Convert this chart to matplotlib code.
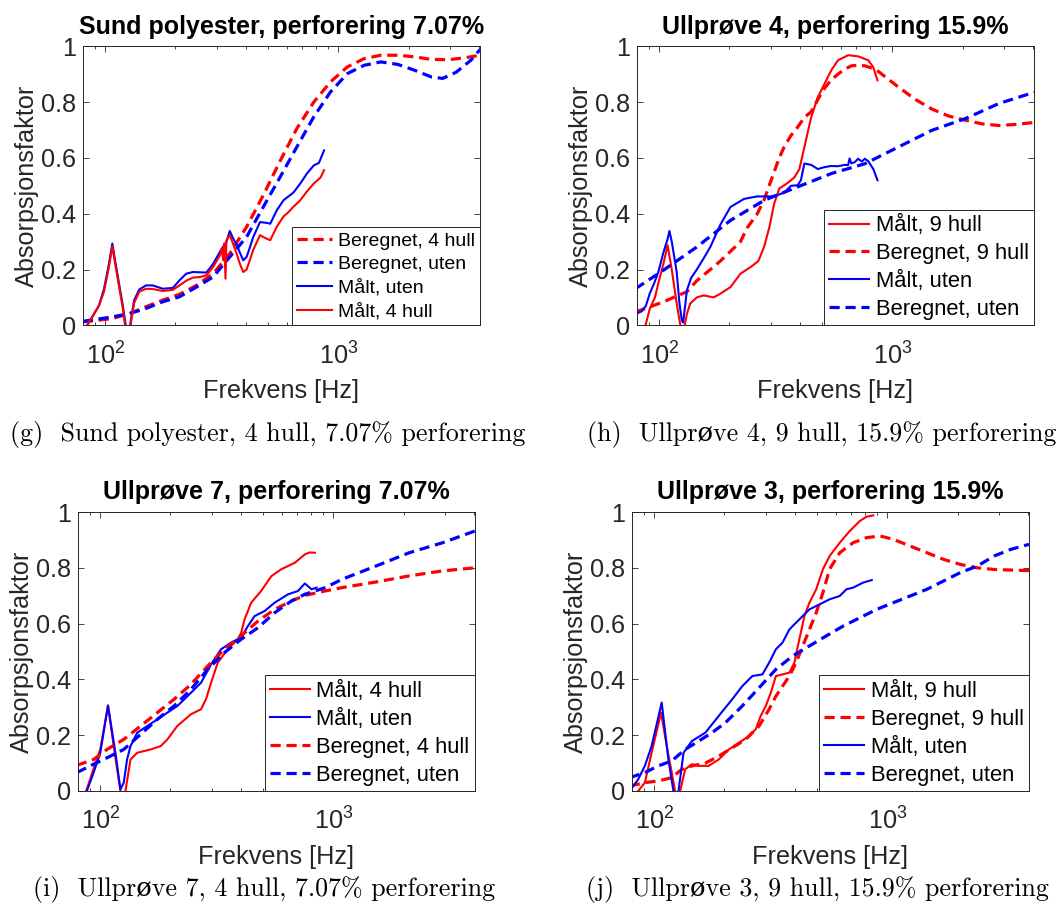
import numpy as np
import matplotlib
matplotlib.use('Agg')
import matplotlib.pyplot as plt
import matplotlib.ticker as mticker

plt.rcParams['font.family'] = ['Liberation Sans', 'DejaVu Sans']
plt.rcParams['mathtext.fontset'] = 'custom'
plt.rcParams['mathtext.rm'] = 'Liberation Sans'

# ---- (g) Sund polyester, 7.07 % ----
g_ber4_f = [80, 107, 127, 149, 176, 208, 246, 290, 342, 404, 476, 563, 663, 784, 924,
            1092, 1290, 1522, 1800, 2125, 2506, 2960, 3497, 4050]
g_ber4_a = [0.012, 0.024, 0.042, 0.066, 0.090, 0.111, 0.143, 0.185, 0.257, 0.353, 0.466,
            0.590, 0.705, 0.800, 0.872, 0.926, 0.956, 0.968, 0.968, 0.962, 0.953, 0.952,
            0.959, 0.968]
g_beru_f = [80, 107, 127, 149, 176, 208, 246, 290, 342, 404, 476, 563, 663, 784, 924,
            1092, 1290, 1522, 1800, 2125, 2506, 2800, 3200, 3700, 4050]
g_beru_a = [0.014, 0.030, 0.042, 0.060, 0.084, 0.102, 0.137, 0.173, 0.245, 0.317, 0.424,
            0.532, 0.639, 0.747, 0.836, 0.902, 0.932, 0.944, 0.935, 0.914, 0.890, 0.885,
            0.907, 0.950, 0.988]
g_maltu_f = [83.6, 93.9, 98.7, 103.7, 107.2, 110.8, 114.5, 118.4, 122.4, 124.5, 126.6, 133,
             139.8, 149.4, 159.6, 176.4, 195, 208, 222.5, 237.7, 254, 271.5, 290, 310, 331,
             342, 354, 365.9, 378, 390.6, 404, 417.4, 431, 461, 493, 510, 544, 581, 642,
             686, 733, 784, 825, 868]
g_maltu_a = [0, 0.07, 0.13, 0.22, 0.293, 0.22, 0.15, 0.08, 0.0, -0.04, -0.02, 0.09, 0.128,
             0.143, 0.143, 0.131, 0.134, 0.161, 0.185, 0.191, 0.19, 0.189, 0.22, 0.263, 0.30,
             0.338, 0.31, 0.29, 0.26, 0.233, 0.245, 0.28, 0.316, 0.37, 0.367, 0.364, 0.412,
             0.448, 0.476, 0.508, 0.544, 0.573, 0.582, 0.627]
g_malt4_f = [83.6, 93.9, 98.7, 103.7, 107.2, 110.8, 114.5, 118.4, 122.4, 124.5, 126.6, 133,
             139.8, 149.4, 159.6, 176.4, 195, 208, 222.5, 237.7, 254, 271.5, 290, 310, 315.4,
             320.6, 323.7, 327.9, 331, 342, 354, 365.9, 378, 390.6, 404, 417.4, 431, 461, 493,
             510, 544, 581, 601, 642, 686, 733, 784, 839, 868]
g_malt4_a = [0, 0.07, 0.12, 0.21, 0.283, 0.21, 0.14, 0.07, -0.02, -0.05, -0.03, 0.08, 0.12,
             0.131, 0.13, 0.123, 0.127, 0.143, 0.16, 0.171, 0.173, 0.179, 0.209, 0.25, 0.275,
             0.233, 0.293, 0.167, 0.305, 0.323, 0.29, 0.257, 0.22, 0.191, 0.2, 0.235, 0.27,
             0.323, 0.31, 0.305, 0.353, 0.39, 0.40, 0.425, 0.448, 0.48, 0.508, 0.53, 0.556]

# ---- (h) Ullprove 4, 15.9 % ----
h_malt9_f = [86, 91.1, 95.8, 99, 104.1, 108.6, 113.1, 118.8, 122, 124.9, 127, 131.3, 135.7,
             144.9, 155, 171, 182.6, 202, 223, 246.6, 266, 281.5, 296.3, 311.1, 327, 355.2,
             379.6, 399, 419.3, 448.1, 478.8, 511.7, 546.8, 584.4, 645.5, 713, 787.7, 828, 863]
h_malt9_a = [-0.02, 0.06, 0.10, 0.15, 0.22, 0.287, 0.20, 0.078, 0.02, -0.03, -0.02, 0.04,
             0.078, 0.10, 0.107, 0.10, 0.113, 0.137, 0.185, 0.209, 0.23, 0.281, 0.35, 0.436,
             0.49, 0.51, 0.53, 0.56, 0.639, 0.745, 0.818, 0.866, 0.914, 0.95, 0.968, 0.964,
             0.95, 0.925, 0.878]
h_ber9_f = [79, 91.1, 104.1, 118.8, 131.3, 144.9, 165.6, 182.6, 202, 223, 238.6, 263.4,
            281.5, 296, 311, 327, 343.6, 367, 392, 419, 448, 479, 512, 547, 584, 624.5, 667,
            713, 762, 828, 870, 1061, 1252, 1478, 1744, 2058, 2428, 2865, 3381, 4050]
h_ber9_a = [0.048, 0.066, 0.084, 0.105, 0.12, 0.16, 0.20, 0.23, 0.265, 0.30, 0.35, 0.40,
            0.45, 0.50, 0.55, 0.60, 0.64, 0.68, 0.71, 0.745, 0.765, 0.81, 0.85, 0.88, 0.90,
            0.918, 0.93, 0.932, 0.93, 0.92, 0.91, 0.854, 0.81, 0.775, 0.75, 0.735, 0.722,
            0.716, 0.72, 0.727]
h_maltu_f = [79, 84, 87.6, 91.1, 95, 99, 104.1, 108.6, 110.5, 113.1, 118.8, 122, 124.9, 126.5,
             129.1, 131.3, 137, 144.9, 155, 165.6, 182.6, 202, 230.8, 263.4, 301, 321.6, 343.6,
             367.2, 392.4, 405, 419.3, 448.1, 478.8, 511.7, 546.8, 584.4, 624.5, 645.5, 655,
             667.3, 689.8, 713, 740, 762, 787.7, 828, 863]
h_maltu_a = [0.04, 0.05, 0.07, 0.115, 0.15, 0.19, 0.26, 0.31, 0.338, 0.30, 0.19, 0.08, 0.018,
             0.01, 0.07, 0.125, 0.17, 0.20, 0.24, 0.281, 0.36, 0.424, 0.453, 0.462, 0.462,
             0.467, 0.476, 0.50, 0.502, 0.52, 0.58, 0.575, 0.56, 0.567, 0.571, 0.57, 0.575,
             0.574, 0.598, 0.58, 0.585, 0.597, 0.587, 0.597, 0.588, 0.56, 0.52]
h_beru_f = [79, 104, 145, 202, 282, 392, 547, 762, 1061, 1478, 2058, 2865, 4050]
h_beru_a = [0.131, 0.197, 0.281, 0.376, 0.448, 0.496, 0.544, 0.579, 0.639, 0.699, 0.741,
            0.795, 0.835]

# ---- (i) Ullprove 7, 7.07 % ----
i_malt4_f = [84, 87, 93.6, 100, 104, 107.9, 114.2, 119, 122, 125, 128.2, 134.8, 144, 164.5,
             181.7, 194, 214, 244.8, 270.5, 284.4, 298.7, 319, 352, 389, 402, 415.7, 444, 490,
             541.6, 598, 683, 754, 790, 833]
i_malt4_a = [-0.03, 0.0, 0.08, 0.15, 0.23, 0.305, 0.16, 0.06, 0.0, -0.04, 0.0, 0.113, 0.137,
             0.149, 0.161, 0.185, 0.233, 0.275, 0.293, 0.33, 0.388, 0.46, 0.508, 0.544, 0.567,
             0.615, 0.675, 0.717, 0.77, 0.795, 0.818, 0.848, 0.855, 0.854]
i_maltu_f = [87.6, 93.6, 100, 107.9, 116.1, 122, 126.1, 130.3, 134.8, 144, 159.1, 175.8,
             194.1, 214.4, 244.8, 270.5, 298.7, 329.8, 364.2, 402.2, 429.7, 459, 506.9, 559.8,
             639, 705.6, 754, 805.5, 847]
i_maltu_a = [0, 0.066, 0.137, 0.307, 0.137, 0.006, 0.03, 0.113, 0.161, 0.209, 0.233, 0.257,
             0.281, 0.305, 0.352, 0.388, 0.454, 0.508, 0.532, 0.55, 0.591, 0.627, 0.645, 0.675,
             0.705, 0.717, 0.744, 0.723, 0.729]
i_ber4_f = [79.3, 93.6, 106.9, 126.1, 148.9, 175.8, 207.4, 244.8, 289, 340.9, 402.2, 474.5,
            559.8, 660.5, 754, 922.5, 1091, 1519, 2115, 2944, 4050]
i_ber4_a = [0.092, 0.113, 0.149, 0.185, 0.233, 0.281, 0.329, 0.382, 0.448, 0.508, 0.556,
            0.609, 0.651, 0.681, 0.701, 0.717, 0.729, 0.749, 0.771, 0.789, 0.80]
i_beru_f = [79.3, 93.6, 106.9, 126.1, 148.9, 175.8, 207.4, 244.8, 289, 340.9, 402.2, 474.5,
            559.8, 660.5, 754, 922.5, 1091, 1519, 2115, 2944, 4050]
i_beru_a = [0.066, 0.096, 0.119, 0.149, 0.203, 0.257, 0.305, 0.364, 0.436, 0.496, 0.544,
            0.585, 0.639, 0.681, 0.705, 0.729, 0.759, 0.806, 0.854, 0.89, 0.932]

# ---- (j) Ullprove 3, 15.9 % ----
j_malt9_f = [85.3, 91.1, 97.4, 106.9, 113.1, 118.8, 122.8, 126, 129.1, 135.7, 144.9, 155, 171,
             189, 208.9, 230.8, 255, 272.3, 286, 301, 316, 332.4, 355, 379.6, 399, 419, 440.7,
             463, 495, 529, 565, 624.5, 689.8, 762, 814, 870]
j_malt9_a = [0, 0.03, 0.137, 0.281, 0.161, 0.066, 0.0, -0.03, 0.0, 0.078, 0.096, 0.09, 0.09,
             0.113, 0.149, 0.173, 0.197, 0.221, 0.269, 0.305, 0.352, 0.412, 0.418, 0.424, 0.46,
             0.544, 0.627, 0.675, 0.723, 0.795, 0.842, 0.89, 0.932, 0.968, 0.983, 0.988]
j_ber9_f = [78.5, 91.1, 104.1, 118.8, 131.3, 144.9, 165.6, 189, 216, 246.6, 281.5, 311, 332.4,
            355, 379.6, 405.6, 433.5, 463, 495, 529, 565, 624.5, 713, 814, 930, 1061, 1252,
            1478, 1744, 2058, 2428, 2865, 3381, 4050]
j_ber9_a = [0.018, 0.03, 0.036, 0.048, 0.078, 0.09, 0.10, 0.125, 0.155, 0.185, 0.233, 0.293,
            0.34, 0.376, 0.412, 0.46, 0.52, 0.579, 0.639, 0.711, 0.795, 0.854, 0.89, 0.908,
            0.914, 0.902, 0.878, 0.854, 0.83, 0.812, 0.80, 0.794, 0.792, 0.79]
j_maltu_f = [78.5, 85.3, 91.1, 97.4, 107.6, 114.9, 120.8, 124, 127, 133.5, 144.9, 165.6, 189,
             216, 238.6, 263.4, 291, 311, 332.4, 355, 379.6, 419, 463, 511.7, 565, 624.5, 667,
             713, 787.7, 857]
j_maltu_a = [0, 0.042, 0.09, 0.161, 0.317, 0.113, 0.0, -0.02, 0.0, 0.137, 0.179, 0.209, 0.269,
             0.329, 0.376, 0.412, 0.418, 0.46, 0.508, 0.532, 0.579, 0.615, 0.651, 0.669, 0.687,
             0.699, 0.723, 0.729, 0.747, 0.756]
j_beru_f = [78.5, 91.1, 104.1, 118.8, 135.7, 155, 176.9, 202, 238.6, 281.5, 332.4, 392.4, 463,
            546.8, 645.5, 762, 900, 1061, 1252, 1478, 1744, 2058, 2428, 2865, 3381, 4050]
j_beru_a = [0.048, 0.066, 0.09, 0.108, 0.149, 0.179, 0.209, 0.245, 0.305, 0.37, 0.436, 0.484,
            0.52, 0.556, 0.591, 0.621, 0.651, 0.675, 0.699, 0.723, 0.753, 0.783, 0.806, 0.842,
            0.866, 0.884]

TXT = '#262626'
RED = (1, 0, 0)
BLUE = (0, 0, 1)
FS = 18.2


def style_axes(ax, title):
    ax.set_xscale('log')
    ax.set_xlim(80, 4050)
    ax.set_ylim(0, 1)
    ax.set_xticks([100, 1000])
    ax.set_xticklabels([r'$\mathregular{10^2}$', r'$\mathregular{10^3}$'])
    ax.xaxis.set_minor_locator(mticker.LogLocator(base=10, subs=np.arange(2, 10)))
    ax.xaxis.set_minor_formatter(mticker.NullFormatter())
    ax.set_yticks([0, 0.2, 0.4, 0.6, 0.8, 1])
    ax.set_yticklabels(['0', '0.2', '0.4', '0.6', '0.8', '1'])
    ax.tick_params(which='both', direction='in', top=True, right=True,
                   colors=TXT, labelsize=FS, width=0.6)
    ax.tick_params(which='major', length=4)
    ax.tick_params(which='minor', length=2.5)
    ax.tick_params(axis='y', pad=5)
    ax.tick_params(axis='x', pad=12)
    for s in ax.spines.values():
        s.set_color(TXT)
        s.set_linewidth(0.7)
    ax.set_xlabel('Frekvens [Hz]', fontsize=FS, color=TXT, labelpad=7)
    ax.set_ylabel('Absorpsjonsfaktor', fontsize=FS, color=TXT, labelpad=1.5)
    ax.set_title(title, fontsize=18, fontweight='bold', pad=9)


def draw(ax, curves, title, legsize):
    for f, a, col, ls, lab in curves:
        if ls == '--':
            ax.plot(f, a, color=col, lw=2.3, ls=(0, (3.2, 1.8)), label=lab)
        else:
            ax.plot(f, a, color=col, lw=1.5, label=lab)
    style_axes(ax, title)
    leg = ax.legend(loc='lower right', borderaxespad=0, fontsize=legsize, fancybox=False,
                    framealpha=1, edgecolor=TXT, handlelength=1.8, handletextpad=0.3,
                    labelspacing=0.31, borderpad=0.25)
    leg.get_frame().set_linewidth(0.7)


fig = plt.figure(figsize=(10.58, 9.11), dpi=100)
W, H = 1058, 911


def add_ax(left, top):
    return fig.add_axes([left / W, 1 - (top + 279) / H, 397.3 / W, 279 / H])


ax_g = add_ax(82.7, 46.3)
ax_h = add_ax(636.7, 46.3)
ax_i = add_ax(77.7, 512)
ax_j = add_ax(631.7, 512)

draw(ax_g, [
    (g_ber4_f, g_ber4_a, RED, '--', 'Beregnet, 4 hull'),
    (g_beru_f, g_beru_a, BLUE, '--', 'Beregnet, uten'),
    (g_maltu_f, g_maltu_a, BLUE, '-', 'Målt, uten'),
    (g_malt4_f, g_malt4_a, RED, '-', 'Målt, 4 hull'),
], 'Sund polyester, perforering 7.07%', 14)

draw(ax_h, [
    (h_malt9_f, h_malt9_a, RED, '-', 'Målt, 9 hull'),
    (h_ber9_f, h_ber9_a, RED, '--', 'Beregnet, 9 hull'),
    (h_maltu_f, h_maltu_a, BLUE, '-', 'Målt, uten'),
    (h_beru_f, h_beru_a, BLUE, '--', 'Beregnet, uten'),
], 'Ullprøve 4, perforering 15.9%', 15.8)

draw(ax_i, [
    (i_malt4_f, i_malt4_a, RED, '-', 'Målt, 4 hull'),
    (i_maltu_f, i_maltu_a, BLUE, '-', 'Målt, uten'),
    (i_ber4_f, i_ber4_a, RED, '--', 'Beregnet, 4 hull'),
    (i_beru_f, i_beru_a, BLUE, '--', 'Beregnet, uten'),
], 'Ullprøve 7, perforering 7.07%', 15.8)

draw(ax_j, [
    (j_malt9_f, j_malt9_a, RED, '-', 'Målt, 9 hull'),
    (j_ber9_f, j_ber9_a, RED, '--', 'Beregnet, 9 hull'),
    (j_maltu_f, j_maltu_a, BLUE, '-', 'Målt, uten'),
    (j_beru_f, j_beru_a, BLUE, '--', 'Beregnet, uten'),
], 'Ullprøve 3, perforering 15.9%', 15.8)

cap_font = ['cmr10', 'DejaVu Serif']
captions = [
    (268, 441, '(g)  Sund polyester, 4 hull, 7.07% perforering'),
    (822, 441, '(h)  Ullprøve 4, 9 hull, 15.9% perforering'),
    (264, 896, '(i)  Ullprøve 7, 4 hull, 7.07% perforering'),
    (817, 896, '(j)  Ullprøve 3, 9 hull, 15.9% perforering'),
]
for x, y, s in captions:
    fig.text(x / W, 1 - y / H, s, ha='center', va='baseline', fontsize=18.7,
             family=cap_font, color='black')

fig.savefig('out.png', dpi=100)
